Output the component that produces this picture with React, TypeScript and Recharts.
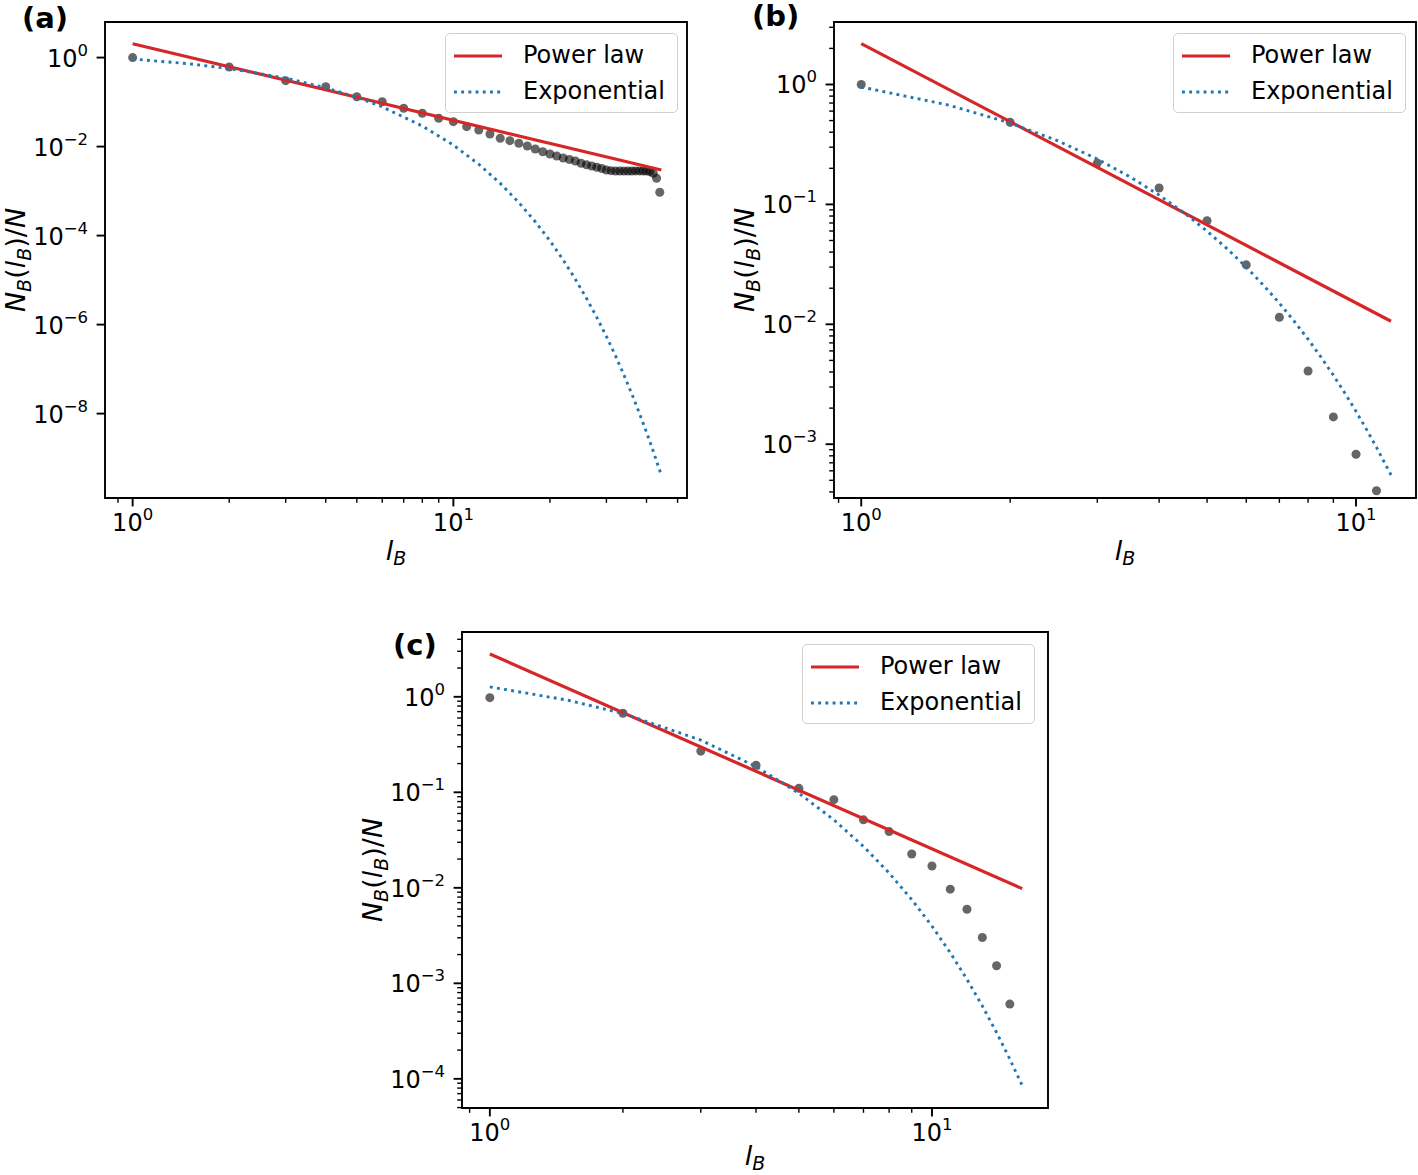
import React from 'react';
import { ScatterChart, Scatter, XAxis, YAxis, ReferenceArea } from 'recharts';

const FONT = '"DejaVu Sans", Verdana, sans-serif';
const RED = '#d62728';
const BLUE = '#1f77b4';
const LEGEND_LABELS = ['Power law', 'Exponential'];

// ---- panel (a) ----
const A_LB = [1, 2, 3, 4, 5, 6, 7, 8, 9, 10, 11, 12, 13, 14, 15, 16, 17, 18, 19, 20, 21, 22,
  23, 24, 25, 26, 27, 28, 29, 30, 31, 32, 33, 34, 35, 36, 37, 38, 39, 40, 41, 42, 43, 44];
const A_NB = [1.0, 0.615, 0.303, 0.222, 0.132, 0.102, 0.0726, 0.056, 0.0433, 0.0363, 0.028,
  0.0236, 0.0192, 0.0154, 0.0136, 0.0119, 0.0103, 0.00883, 0.00768, 0.00682, 0.00615, 0.00554,
  0.00513, 0.00475, 0.00422, 0.0039, 0.00366, 0.00343, 0.00322, 0.00298, 0.00288, 0.00283,
  0.00282, 0.00282, 0.00283, 0.00283, 0.00284, 0.00284, 0.00283, 0.00282, 0.00273, 0.00251,
  0.00194, 0.00094];
const A_POW_LB = [1, 44.5];
const A_POW_NB = [2.05, 0.00298];
const A_EXP_LB = [1, 1.5, 2, 3, 4, 5, 6, 8, 10, 12, 14, 16, 18, 20, 22, 24, 26, 28, 30, 32, 34,
  36, 38, 40, 42, 44.5];
const A_EXP_NB = [0.928, 0.724, 0.566, 0.345, 0.21, 0.128, 0.0781, 0.029, 0.01078, 0.00401,
  0.00149, 5.53e-4, 2.05e-4, 7.64e-5, 2.84e-5, 1.05e-5, 3.91e-6, 1.45e-6, 5.41e-7, 2.01e-7,
  7.46e-8, 2.77e-8, 1.03e-8, 3.83e-9, 1.42e-9, 4.13e-10];
const A_XLIM = [0.82, 53.5];
const A_YLIM = [1.27e-10, 6.3];
const A_XLABELS = [1, 10];
const A_YLABELS = [1, 1e-2, 1e-4, 1e-6, 1e-8];

// ---- panel (b) ----
const B_LB = [1, 2, 3, 4, 5, 6, 7, 8, 9, 10, 11];
const B_NB = [1.0, 0.483, 0.221, 0.137, 0.073, 0.0313, 0.01146, 0.00408, 0.00169, 0.000824,
  0.000409];
const B_POW_LB = [1, 11.77];
const B_POW_NB = [2.19, 0.0106];
const B_EXP_LB = [1, 1.5, 2, 2.5, 3, 3.5, 4, 4.5, 5, 5.5, 6, 6.5, 7, 7.5, 8, 8.5, 9, 9.5, 10,
  10.5, 11, 11.77];
const B_EXP_NB = [0.953, 0.674, 0.477, 0.338, 0.239, 0.169, 0.1195, 0.0846, 0.0598, 0.0423, 0.03,
  0.0212, 0.015, 0.0106, 0.00751, 0.00531, 0.00376, 0.00266, 0.00188, 0.00133, 0.000941, 0.000553];
const B_XLIM = [0.881, 13.22];
const B_YLIM = [3.56e-4, 3.32];
const B_XLABELS = [1, 10];
const B_YLABELS = [1, 1e-1, 1e-2, 1e-3];

// ---- panel (c) ----
const C_LB = [1, 2, 3, 4, 5, 6, 7, 8, 9, 10, 11, 12, 13, 14, 15];
const C_NB = [0.98, 0.673, 0.27, 0.192, 0.11, 0.0838, 0.0515, 0.0388, 0.0226, 0.0169, 0.00968,
  0.00596, 0.00302, 0.00153, 0.000606];
const C_POW_LB = [1, 16];
const C_POW_NB = [2.81, 0.0098];
const C_EXP_LB = [1, 1.5, 2, 3, 4, 5, 6, 7, 8, 9, 10, 11, 12, 13, 14, 15, 16];
const C_EXP_NB = [1.27, 0.922, 0.669, 0.352, 0.186, 0.0978, 0.0515, 0.0271, 0.0143, 0.00753,
  0.00397, 0.00209, 0.0011, 5.8e-4, 3.05e-4, 1.61e-4, 8.5e-5];
const C_XLIM = [0.865, 18.3];
const C_YLIM = [4.95e-5, 4.77];
const C_XLABELS = [1, 10];
const C_YLABELS = [1, 1e-1, 1e-2, 1e-3, 1e-4];

const zip = (xs: number[], ys: number[]) => xs.map((x, i) => ({ x, y: ys[i] }));

// log axis ticks: decades plus 2..9 minors inside the limits
function logTicks(lim: number[], minors: boolean) {
  const out: number[] = [];
  const lo = Math.floor(Math.log10(lim[0]));
  const hi = Math.ceil(Math.log10(lim[1]));
  for (let e = lo; e <= hi; e++) {
    for (let k = 1; k <= 9; k++) {
      if (k > 1 && !minors) continue;
      const v = k * Math.pow(10, e);
      if (v >= lim[0] && v <= lim[1]) out.push(v);
    }
  }
  return out;
}

const isDecade = (v: number) => Math.abs(Math.log10(v) - Math.round(Math.log10(v))) < 1e-6;
const hasLabel = (list: number[], v: number) =>
  list.some((l) => Math.abs(Math.log10(l) - Math.log10(v)) < 1e-6);
const expText = (v: number) => {
  const e = Math.round(Math.log10(v));
  return e < 0 ? `\u2212${-e}` : `${e}`;
};

function makeXTick(labels: number[]) {
  return (props: any) => {
    const { x, y, payload } = props;
    const v = payload.value;
    const major = isDecade(v);
    return (
      <g>
        <line x1={x} x2={x} y1={y} y2={y + (major ? 8.4 : 4.8)} stroke="#000" strokeWidth={major ? 1.9 : 1.4} />
        {hasLabel(labels, v) && (
          <text x={x} y={y + 33} textAnchor="middle" fontSize={24} fontFamily={FONT} fill="#000">
            <tspan>10</tspan>
            <tspan dy={-11} fontSize={16.5}>{expText(v)}</tspan>
          </text>
        )}
      </g>
    );
  };
}

function makeYTick(labels: number[]) {
  return (props: any) => {
    const { x, y, payload } = props;
    const v = payload.value;
    const major = isDecade(v);
    return (
      <g>
        <line x1={x} x2={x - (major ? 8.4 : 4.8)} y1={y} y2={y} stroke="#000" strokeWidth={major ? 1.9 : 1.4} />
        {hasLabel(labels, v) && (
          <text x={x - 17} y={y + 9} textAnchor="end" fontSize={24} fontFamily={FONT} fill="#000">
            <tspan>10</tspan>
            <tspan dy={-11} fontSize={16.5}>{expText(v)}</tspan>
          </text>
        )}
      </g>
    );
  };
}

const XLabel = (props: any) => {
  const vb = props.viewBox;
  return (
    <text x={vb.x + vb.width / 2} y={Math.min(vb.y + 62, vb.y + vb.height - 10)} textAnchor="middle" fontSize={27} fontFamily={FONT} fill="#000">
      <tspan fontStyle="italic">l</tspan>
      <tspan fontStyle="italic" fontSize={19} dy={5}>B</tspan>
    </text>
  );
};

const YLabel = (props: any) => {
  const vb = props.viewBox;
  const cx = vb.x + vb.width - 80;
  const cy = vb.y + vb.height / 2;
  return (
    <text x={cx} y={cy} transform={`rotate(-90 ${cx} ${cy})`} textAnchor="middle" fontSize={27} fontFamily={FONT} fill="#000">
      <tspan fontStyle="italic">N</tspan>
      <tspan fontStyle="italic" fontSize={19} dy={6}>B</tspan>
      <tspan dy={-6}>(</tspan>
      <tspan fontStyle="italic">l</tspan>
      <tspan fontStyle="italic" fontSize={19} dy={6}>B</tspan>
      <tspan dy={-6}>)/</tspan>
      <tspan fontStyle="italic">N</tspan>
    </text>
  );
};

const noShape = () => <g />;

function FitLegend({ left, top }: { left: number; top: number }) {
  const styles = [
    { stroke: RED, strokeWidth: 3.2, dash: undefined },
    { stroke: BLUE, strokeWidth: 2.9, dash: '2.9 4.3' },
  ];
  return (
    <div style={{
      position: 'absolute', left, top, width: 233, height: 80, boxSizing: 'border-box',
      border: '1.5px solid #d0d0d0', borderRadius: 5, background: 'rgba(255,255,255,0.8)',
      fontFamily: FONT, fontSize: 24, color: '#000',
    }}>
      {LEGEND_LABELS.map((name, i) => (
        <div key={name} style={{ position: 'absolute', left: 0, top: 4 + i * 36, height: 36, width: '100%' }}>
          <svg width={60} height={36} style={{ position: 'absolute', left: 8, top: 0 }}>
            <line x1={0} x2={48} y1={18} y2={18} stroke={styles[i].stroke} strokeWidth={styles[i].strokeWidth} strokeDasharray={styles[i].dash} />
          </svg>
          <span style={{ position: 'absolute', left: 77, top: 3, lineHeight: '28px', whiteSpace: 'nowrap' }}>{name}</span>
        </div>
      ))}
    </div>
  );
}

type PanelProps = {
  left: number; top: number; width: number; height: number;
  margin: { top: number; right: number; bottom: number; left: number };
  yw: number; xh: number;
  xLim: number[]; yLim: number[];
  xLabels: number[]; yLabels: number[];
  yMinor: boolean;
  pts: { x: number; y: number }[];
  pow: { x: number; y: number }[];
  exp: { x: number; y: number }[];
};

function Panel(p: PanelProps) {
  // with a stride of two decades matplotlib draws only the labelled decades
  const yTicks = p.yMinor ? logTicks(p.yLim, true) : p.yLabels.slice().sort((a, b) => a - b);
  return (
    <div style={{ position: 'absolute', left: p.left, top: p.top }}>
      <ScatterChart width={p.width} height={p.height} margin={p.margin}>
        <XAxis
          type="number" dataKey="x" scale="log" domain={p.xLim} allowDataOverflow
          ticks={logTicks(p.xLim, true)} interval={0} tick={makeXTick(p.xLabels)}
          tickLine={false} axisLine={false} tickSize={0} tickMargin={0} height={p.xh}
          label={{ content: XLabel }}
        />
        <YAxis
          type="number" dataKey="y" scale="log" domain={p.yLim} allowDataOverflow
          ticks={yTicks} interval={0} tick={makeYTick(p.yLabels)}
          tickLine={false} axisLine={false} tickSize={0} tickMargin={0} width={p.yw}
          label={{ content: YLabel }}
        />
        <Scatter data={p.pts} fill="#000" fillOpacity={0.6} isAnimationActive={false} />
        <Scatter data={p.pow} fill="none" line={{ stroke: RED, strokeWidth: 3.2 }} shape={noShape} isAnimationActive={false} />
        <Scatter
          data={p.exp} fill="none"
          line={{ stroke: BLUE, strokeWidth: 2.9, strokeDasharray: '2.9 4.3' }}
          shape={noShape} isAnimationActive={false}
        />
        <ReferenceArea
          x1={p.xLim[0]} x2={p.xLim[1]} y1={p.yLim[0]} y2={p.yLim[1]}
          fill="none" stroke="#000" strokeWidth={1.9} ifOverflow="visible"
        />
      </ScatterChart>
    </div>
  );
}

const tagStyle = (left: number, top: number): React.CSSProperties => ({
  position: 'absolute', left, top, fontFamily: FONT, fontWeight: 'bold', fontSize: 29,
  lineHeight: '30px', color: '#000',
});

export default function App() {
  return (
    <div style={{ position: 'absolute', left: 0, top: 0, width: 1418, height: 1175, background: '#fff', overflow: 'hidden' }}>
      <Panel
        left={0} top={0} width={700} height={580}
        margin={{ top: 22, right: 13, bottom: 0, left: 0 }} yw={105} xh={82}
        xLim={A_XLIM} yLim={A_YLIM} xLabels={A_XLABELS} yLabels={A_YLABELS} yMinor={false}
        pts={zip(A_LB, A_NB)} pow={zip(A_POW_LB, A_POW_NB)} exp={zip(A_EXP_LB, A_EXP_NB)}
      />
      <Panel
        left={720} top={0} width={698} height={580}
        margin={{ top: 22, right: 2, bottom: 0, left: 0 }} yw={114} xh={82}
        xLim={B_XLIM} yLim={B_YLIM} xLabels={B_XLABELS} yLabels={B_YLABELS} yMinor
        pts={zip(B_LB, B_NB)} pow={zip(B_POW_LB, B_POW_NB)} exp={zip(B_EXP_LB, B_EXP_NB)}
      />
      <Panel
        left={340} top={600} width={720} height={575}
        margin={{ top: 32, right: 12, bottom: 0, left: 0 }} yw={122} xh={67}
        xLim={C_XLIM} yLim={C_YLIM} xLabels={C_XLABELS} yLabels={C_YLABELS} yMinor
        pts={zip(C_LB, C_NB)} pow={zip(C_POW_LB, C_POW_NB)} exp={zip(C_EXP_LB, C_EXP_NB)}
      />
      <FitLegend left={445} top={33} />
      <FitLegend left={1173} top={33} />
      <FitLegend left={802} top={644} />
      <div style={tagStyle(22, 3)}>(a)</div>
      <div style={tagStyle(752, 1)}>(b)</div>
      <div style={tagStyle(393, 630)}>(c)</div>
    </div>
  );
}
